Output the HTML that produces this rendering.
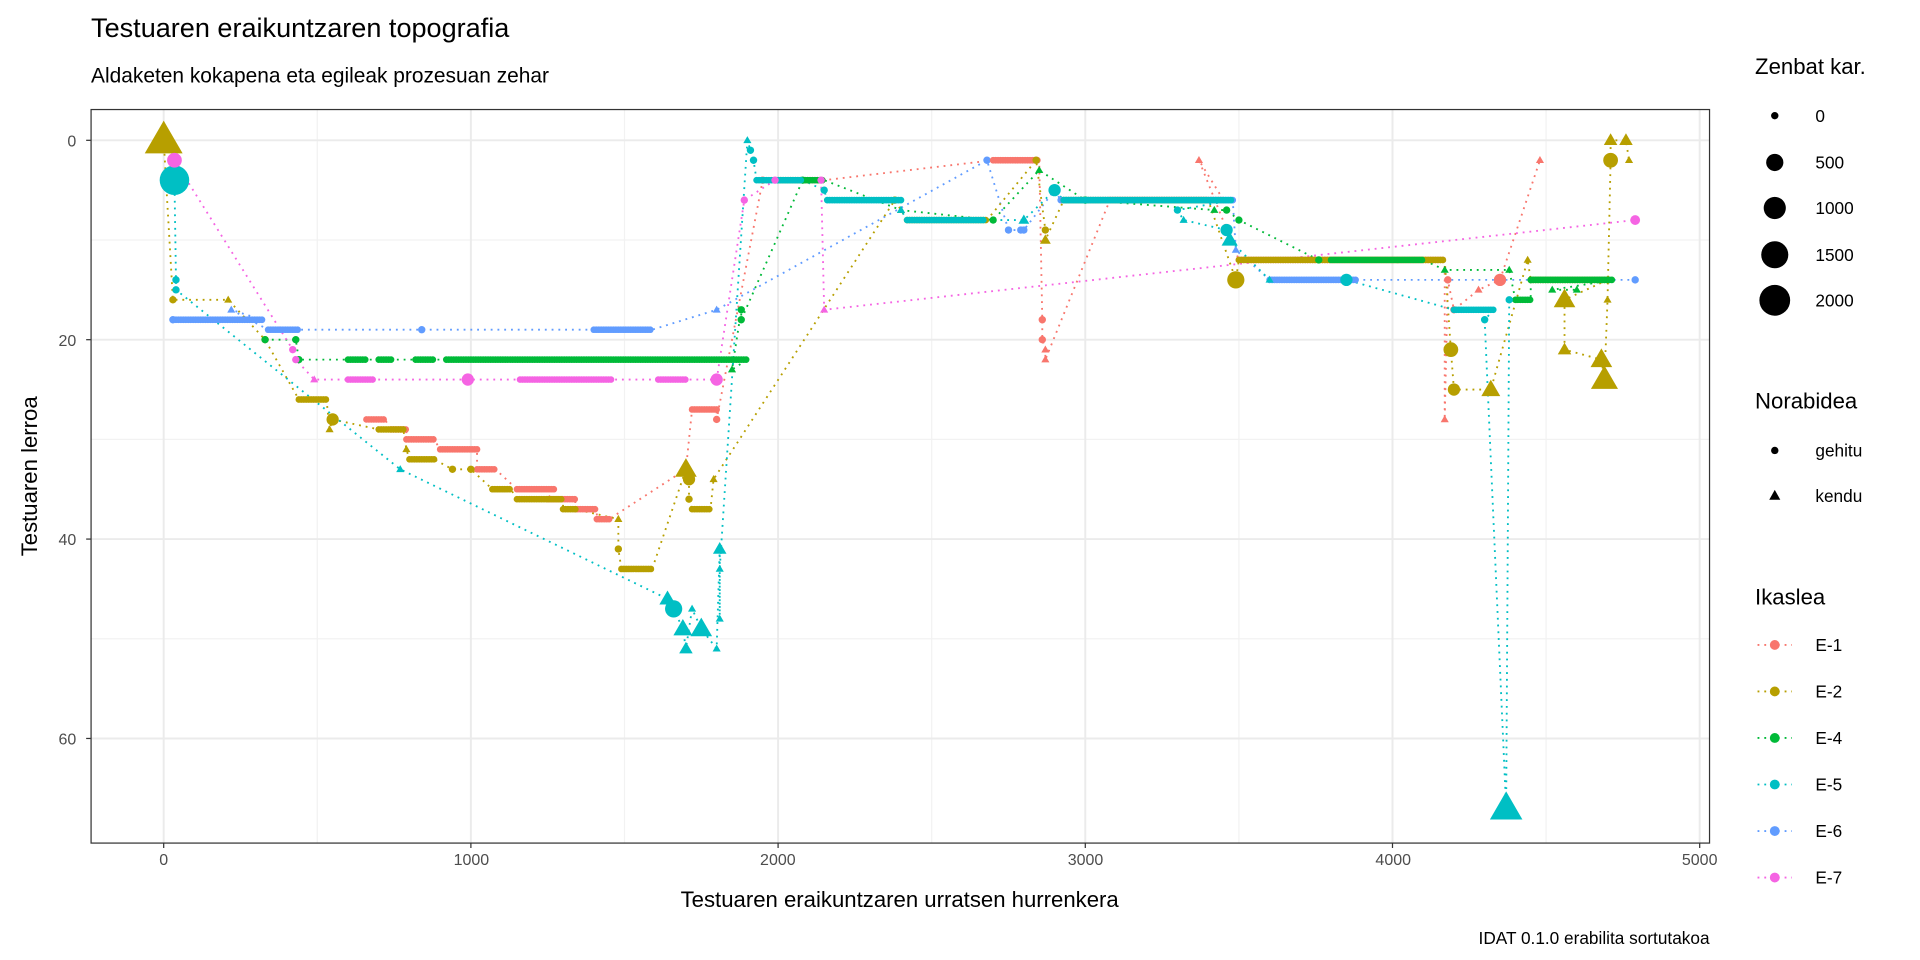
<!DOCTYPE html>
<html><head><meta charset="utf-8"><style>
html,body{margin:0;padding:0;background:#fff;}
svg{display:block;font-family:"Liberation Sans",sans-serif;}
</style></head><body>
<svg id="s" width="1920" height="960" viewBox="0 0 1560 780" xmlns="http://www.w3.org/2000/svg">
<rect width="1560" height="780" fill="#fff"/>
<text x="74" y="30" font-size="22" fill="#000">Testuaren eraikuntzaren topografia</text>
<text x="74" y="67" font-size="17" fill="#000">Aldaketen kokapena eta egileak prozesuan zehar</text>
<g id="grid"></g>
<g id="lines"></g>
<g id="pts"></g>
<rect x="74" y="89" width="1315" height="596" fill="none" stroke="#333" stroke-width="1"/>
<g font-size="13" fill="#4d4d4d">
<text x="62" y="119" text-anchor="end">0</text>
<text x="62" y="281" text-anchor="end">20</text>
<text x="62" y="443" text-anchor="end">40</text>
<text x="62" y="605" text-anchor="end">60</text>
<text x="133" y="703" text-anchor="middle">0</text>
<text x="383" y="703" text-anchor="middle">1000</text>
<text x="632" y="703" text-anchor="middle">2000</text>
<text x="882" y="703" text-anchor="middle">3000</text>
<text x="1132" y="703" text-anchor="middle">4000</text>
<text x="1381" y="703" text-anchor="middle">5000</text>
</g>
<text x="731" y="737" font-size="18" text-anchor="middle">Testuaren eraikuntzaren urratsen hurrenkera</text>
<text transform="translate(30,387) rotate(-90)" font-size="18" text-anchor="middle">Testuaren lerroa</text>
<text x="1389" y="767" font-size="14" text-anchor="end">IDAT 0.1.0 erabilita sortutakoa</text>
<g font-size="14" fill="#000">
<text x="1426" y="60" font-size="18">Zenbat kar.</text>
<circle cx="1442" cy="94" r="3"/><text x="1475" y="99">0</text>
<circle cx="1442" cy="132" r="7"/><text x="1475" y="137">500</text>
<circle cx="1442" cy="169" r="9"/><text x="1475" y="174">1000</text>
<circle cx="1442" cy="207" r="11"/><text x="1475" y="212">1500</text>
<circle cx="1442" cy="244" r="12.5"/><text x="1475" y="249">2000</text>
<text x="1426" y="332" font-size="18">Norabidea</text>
<circle cx="1442" cy="366" r="3"/><text x="1475" y="371">gehitu</text>
<polygon points="1442,398 1446.5,406 1437.5,406"/><text x="1475" y="408">kendu</text>
<text x="1426" y="491" font-size="18">Ikaslea</text>
</g>
<g id="leg" font-size="14"></g>
</svg>
<script>
var NS="http://www.w3.org/2000/svg";
function X(x){return 133+x*0.2496;}function Y(y){return 114+y*8.1;}
function el(p,t,a){var e=document.createElementNS(NS,t);for(var k in a)e.setAttribute(k,a[k]);p.appendChild(e);return e;}
var grid=document.getElementById('grid');
el(grid,'rect',{x:74,y:89,width:1315,height:596,fill:'#fff'});
[500,1500,2500,3500,4500].forEach(function(v){el(grid,'line',{x1:X(v),x2:X(v),y1:89,y2:685,stroke:'#f2f2f2','stroke-width':1});});
[10,30,50].forEach(function(v){el(grid,'line',{y1:Y(v),y2:Y(v),x1:74,x2:1389,stroke:'#f2f2f2','stroke-width':1});});
[0,1000,2000,3000,4000,5000].forEach(function(v){el(grid,'line',{x1:X(v),x2:X(v),y1:89,y2:685,stroke:'#ebebeb','stroke-width':1.6});el(grid,'line',{x1:X(v),x2:X(v),y1:685,y2:689,stroke:'#333'});});
[0,20,40,60].forEach(function(v){el(grid,'line',{y1:Y(v),y2:Y(v),x1:74,x2:1389,stroke:'#ebebeb','stroke-width':1.6});el(grid,'line',{y1:Y(v),y2:Y(v),x1:70,x2:74,stroke:'#333'});});
var C={e1:'#F8766D',e2:'#B79F00',e4:'#00BA38',e5:'#00BFC4',e6:'#619CFF',e7:'#F564E3'};
var D={
e6:[[30,18],['r',40,320,18],[220,17,3,'t'],['r',340,440,19],[840,19],['r',1400,1590,19],[1800,17,3,'t'],[2680,2],[2750,9],[2790,9],[2800,9],[2900,5],['r',2920,3480,6],[3490,11,3,'t'],['r',3600,3880,14],[4790,14]],
e1:[['r',660,720,28],['r',740,790,29],['r',790,880,30],['r',900,1020,31],['r',1020,1080,33],['r',1150,1270,35],['r',1250,1340,36],['r',1340,1410,37],['r',1410,1450,38],[1700,33,3,'t'],['r',1720,1800,27],[1800,28],[1950,4],['r',2000,2150,4],['r',2700,2850,2],[2860,18],[2860,20],[2870,21,3,'t'],[2870,22,3,'t'],['r',3080,3450,6],[3370,2,3,'t'],['r',3500,4170,12],[4170,28,3,'t'],[4180,14],[4200,17],[4280,15,3,'t'],[4350,14,5],[4480,2,3,'t']],
e2:[[0,0,14,'t'],[30,16],[210,16,3,'t'],[330,20],['r',440,530,26],[540,29,3,'t'],[550,28,5],['r',700,780,29],[790,31,3,'t'],['r',800,880,32],[940,33],[1000,33],['r',1070,1130,35],['r',1150,1300,36],['r',1300,1340,37],[1480,38,3,'t'],[1480,41],['r',1490,1590,43],[1700,33,8,'t'],[1710,34,5],[1710,36],['r',1720,1780,37],[1790,34,3,'t'],[2380,6],['r',2420,2680,8],[2840,2],[2870,9],[2870,10,4,'t'],['r',2930,3400,6],[3490,14,7],['r',3500,4170,12],[4190,21,6],[4200,25,5],[4320,25,7,'t'],[4440,12,3,'t'],['r',4450,4700,14],[4560,16,8,'t'],[4560,21,5,'t'],[4680,22,8,'t'],[4690,24,10,'t'],[4700,16,3,'t'],[4710,2,6],[4710,0,5,'t'],[4760,0,5,'t'],[4770,2,3,'t']],
e4:[[330,20],[430,20],[440,22],['r',600,660,22],['r',700,740,22],['r',820,880,22],['r',920,1900,22],[1850,23,3,'t'],[1880,17],[1880,18],[2080,4],['r',2000,2150,4],[2400,7,3,'t'],[2700,8],[2850,3,3,'t'],[3000,6],[3420,7,3,'t'],[3460,7],[3500,8],[3760,12],['r',3800,4100,12],[4170,13,3,'t'],[4380,13,3,'t'],['r',4400,4450,16],['r',4450,4720,14],[4520,15,3,'t'],[4600,15,3,'t']],
e5:[[30,2],[35,4,12],[40,14],[40,15],[770,33,3,'t'],[1640,46,6,'t'],[1660,47,7],[1690,49,7,'t'],[1700,51,5,'t'],[1720,47,3,'t'],[1750,49,8,'t'],[1800,51,3,'t'],[1810,41,5,'t'],[1810,48,3,'t'],[1810,43,3,'t'],[1900,0,3,'t'],[1910,1],[1920,2],['r',1930,2080,4],[2150,5],['r',2160,2400,6],[2400,7,3,'t'],['r',2420,2670,8],[2800,8,4,'t'],[2900,5,5],['r',2930,3480,6],[3300,7],[3320,8,3,'t'],[3460,9,5],[3470,10,6,'t'],[3600,14,3,'t'],[3850,14,5],['r',4200,4330,17],[4300,18],[4370,67,12,'t'],[4380,16]],
e7:[[35,2,6],[420,21],[430,22],[490,24,3,'t'],['r',600,680,24],[990,24,5],['r',1160,1460,24],['r',1610,1700,24],[1800,24,5],[1890,6],[1990,4],[2140,4],[2150,17,3,'t'],[4790,8,4]]
};
var lines=document.getElementById('lines'),pts=document.getElementById('pts');
function mark(c,x,y,r,s){if(s=='t'){var h=r*1.9;el(pts,'polygon',{points:X(x)+','+(Y(y)-h*0.6)+' '+(X(x)+r*1.1)+','+(Y(y)+h*0.4)+' '+(X(x)-r*1.1)+','+(Y(y)+h*0.4),fill:c});}else el(pts,'circle',{cx:X(x),cy:Y(y),r:r,fill:c});}
for(var k in D){var c=C[k],pp=[];D[k].forEach(function(d){if(d[0]==='r'){for(var x=d[1];x<=d[2];x+=8){mark(c,x,d[3],2.7,d[4]);}pp.push(X(d[1])+','+Y(d[3]));pp.push(X(d[2])+','+Y(d[3]));}else{mark(c,d[0],d[1],d[2]||3,d[3]);pp.push(X(d[0])+','+Y(d[1]));}});
el(lines,'polyline',{points:pp.join(' '),fill:'none',stroke:c,'stroke-width':1.5,'stroke-dasharray':'1.5 4'});}
var leg=document.getElementById('leg'),names=['E-1','E-2','E-4','E-5','E-6','E-7'],ks=['e1','e2','e4','e5','e6','e7'];
for(var i=0;i<6;i++){var y=524+i*37.8;el(leg,'line',{x1:1428,x2:1456,y1:y,y2:y,stroke:C[ks[i]],'stroke-width':1.5,'stroke-dasharray':'1.5 4'});el(leg,'circle',{cx:1442,cy:y,r:4,fill:C[ks[i]]});var t=el(leg,'text',{x:1475,y:y+5});t.textContent=names[i];}
</script>
</body></html>
